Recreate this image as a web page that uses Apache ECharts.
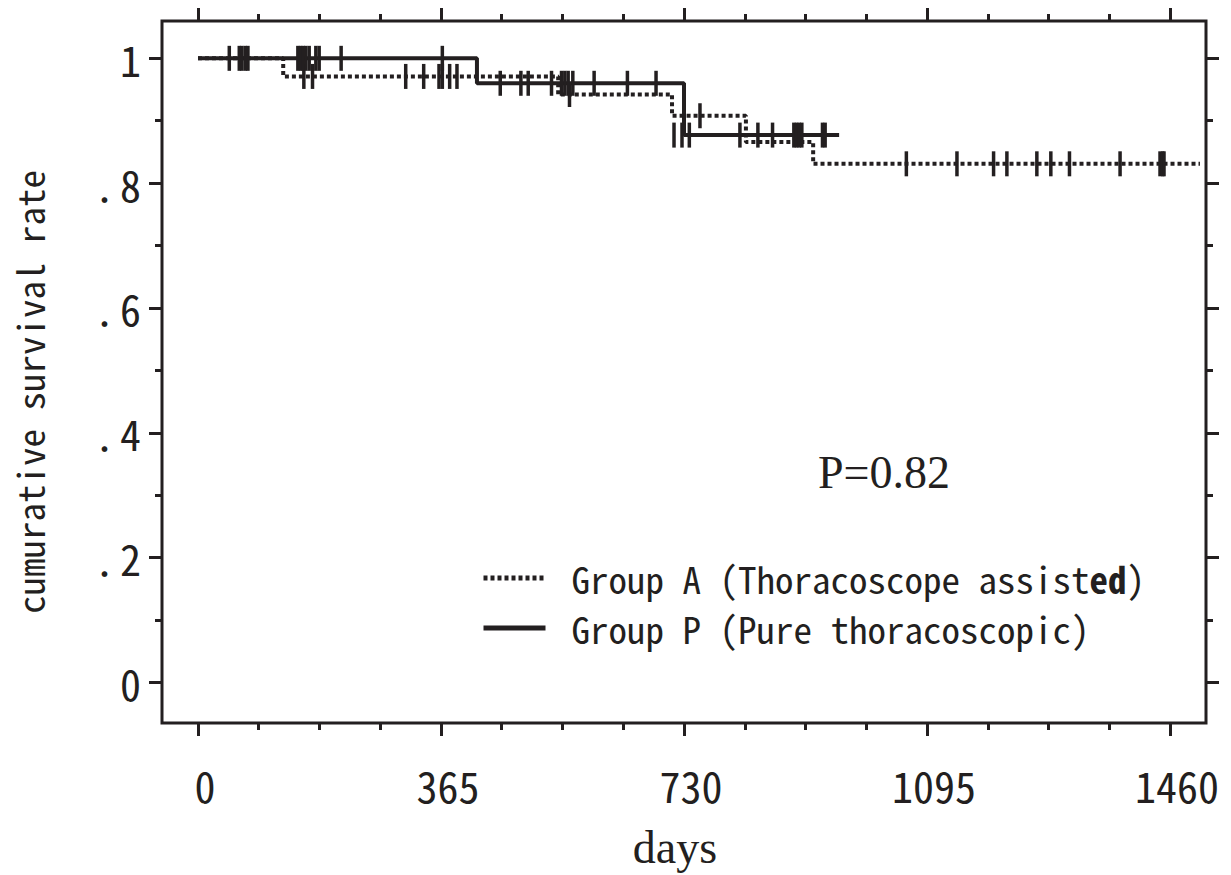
<!DOCTYPE html>
<html>
<head>
<meta charset="utf-8">
<style>
html,body{margin:0;padding:0;background:#fff;}
#chart{width:1231px;height:875px;}
</style>
<script src="https://cdn.jsdelivr.net/npm/echarts@6/dist/echarts.min.js"></script>
</head>
<body>
<div id="chart"></div>
<script>
// ---- data ----
const xMajorTicks = [0, 365, 730, 1095, 1460];
const xMinorTicks = [91.25, 182.5, 273.75, 456.25, 547.5, 638.75, 821.25, 912.5, 1003.75, 1186.25, 1277.5, 1368.75];
const yMajorTicks = [0, 0.2, 0.4, 0.6, 0.8, 1];
const yMinorTicks = [0.1, 0.3, 0.5, 0.7, 0.9];

// Kaplan-Meier step curves: event times (days) and survival after them
const groupATimes = [0, 128, 541, 712, 823, 924, 1505];
const groupASurv  = [1, 0.971, 0.942, 0.908, 0.866, 0.831, 0.831];
const groupPTimes = [0, 419, 730, 963];
const groupPSurv  = [1, 0.960, 0.877, 0.877];

// censored observations (day, level on the curve)
const groupACensorDays = [47, 66, 75, 159, 172, 312, 339, 362, 367, 378, 389, 558, 754,
  1064, 1140, 1195, 1215, 1260, 1281, 1309, 1385, 1445, 1449, 1451];
const groupACensorSurv = [1, 1, 1, 0.971, 0.971, 0.971, 0.971, 0.971, 0.971, 0.971, 0.971, 0.942, 0.908,
  0.831, 0.831, 0.831, 0.831, 0.831, 0.831, 0.831, 0.831, 0.831, 0.831, 0.831];
const groupPCensorDays = [62, 71, 150, 154, 158, 162, 167, 177, 182, 215, 367,
  454, 485, 496, 531, 546, 551, 556, 563, 595, 645, 688,
  715, 727, 738, 814, 841, 863, 895, 899, 903, 907, 938, 942];
const groupPCensorSurv = [1, 1, 1, 1, 1, 1, 1, 1, 1, 1, 1,
  0.960, 0.960, 0.960, 0.960, 0.960, 0.960, 0.960, 0.960, 0.960, 0.960, 0.960,
  0.877, 0.877, 0.877, 0.877, 0.877, 0.877, 0.877, 0.877, 0.877, 0.877, 0.877, 0.877];

const seriesNames = ['Group A (Thoracoscope assisted)', 'Group P (Pure thoracoscopic)'];
const pValueText = 'P=0.82';
const xAxisTitle = 'days';
const yAxisTitle = 'cumurative survival rate';

// ---- chart ----
const INK = '#231f20';
const MONO = "'Noto Sans Mono CJK JP','Noto Sans Mono CJK SC','Noto Sans CJK JP','DejaVu Sans Mono',monospace";
const SERIF = "'Liberation Serif','Times New Roman',serif";
const X_MIN = -54.07, X_MAX = 1514.07;
const Y_MIN = -0.0649, Y_MAX = 1.0598;

function pairs(xs, ys) { return xs.map((x, i) => [x, ys[i]]); }

function xAxisDef(pos, ticks, len, labels) {
  return {
    type: 'value', position: pos, min: X_MIN, max: X_MAX, gridIndex: 0,
    axisLine: { show: false, onZero: false },
    axisTick: { show: true, customValues: ticks, length: len, lineStyle: { color: INK, width: 3 } },
    axisLabel: labels ? {
      show: true, customValues: ticks, margin: 40, color: INK,
      fontFamily: MONO, fontSize: 42, padding: [0, 0, 0, 14],
      formatter: function (v) { return String(Math.round(v)); }
    } : { show: false },
    splitLine: { show: false }
  };
}
function yAxisDef(pos, ticks, len, labels) {
  return {
    type: 'value', position: pos, min: Y_MIN, max: Y_MAX, gridIndex: 0,
    axisLine: { show: false, onZero: false },
    axisTick: { show: true, customValues: ticks, length: len, lineStyle: { color: INK, width: 3 } },
    axisLabel: labels ? {
      show: true, customValues: ticks, margin: 21, color: INK,
      fontFamily: MONO, fontSize: 42,
      formatter: function (v) {
        if (Math.abs(v) < 1e-9) return '0';
        if (Math.abs(v - 1) < 1e-9) return '1';
        return '{d|.}' + Math.round(v * 10);
      },
      rich: { d: { fontFamily: MONO, fontSize: 42, color: INK, padding: [0, 5, 0, 0] } }
    } : { show: false },
    splitLine: { show: false }
  };
}

const chart = echarts.init(document.getElementById('chart'), null, { renderer: 'svg' });
chart.setOption({
  animation: false,
  backgroundColor: '#fff',
  grid: {
    left: 162, right: 25, top: 21, bottom: 152,
    show: true, borderColor: INK, borderWidth: 3, backgroundColor: 'transparent',
    outerBoundsMode: 'none'
  },
  xAxis: [
    xAxisDef('bottom', xMajorTicks, 13, true),
    xAxisDef('bottom', xMinorTicks, 7, false),
    xAxisDef('top', xMajorTicks, 13, false),
    xAxisDef('top', xMinorTicks, 7, false)
  ],
  yAxis: [
    yAxisDef('left', yMajorTicks, 13, true),
    yAxisDef('left', yMinorTicks, 7, false),
    yAxisDef('right', yMajorTicks, 13, false),
    yAxisDef('right', yMinorTicks, 7, false)
  ],
  legend: {
    data: seriesNames,
    orient: 'vertical',
    left: 481, top: 558,
    padding: 0,
    itemWidth: 62, itemHeight: 14, itemGap: 10,
    selectedMode: false,
    itemStyle: { opacity: 0 },
    lineStyle: { width: 5 },
    textStyle: {
      fontFamily: MONO, fontSize: 37, color: INK, lineHeight: 40,
      padding: [0, 0, 0, 21],
      rich: { b: { fontFamily: MONO, fontSize: 37, fontWeight: 'bold', color: INK } }
    },
    formatter: function (name) {
      if (name === seriesNames[0]) return 'Group A (Thoracoscope assist{b|ed})';
      return name;
    }
  },
  series: [
    {
      name: seriesNames[0], type: 'line', step: 'end',
      data: pairs(groupATimes, groupASurv),
      symbol: 'none', showSymbol: false,
      lineStyle: { color: INK, width: 4, type: [4, 3] },
      itemStyle: { color: INK },
      z: 2
    },
    {
      name: seriesNames[1], type: 'line', step: 'end',
      data: pairs(groupPTimes, groupPSurv),
      symbol: 'none', showSymbol: false,
      lineStyle: { color: INK, width: 4, type: 'solid' },
      itemStyle: { color: INK },
      z: 3
    },
    {
      name: 'A censored', type: 'scatter',
      data: pairs(groupACensorDays, groupACensorSurv),
      symbol: 'rect', symbolSize: [3.5, 25],
      itemStyle: { color: INK, opacity: 1 }, z: 4
    },
    {
      name: 'P censored', type: 'scatter',
      data: pairs(groupPCensorDays, groupPCensorSurv),
      symbol: 'rect', symbolSize: [3.5, 25],
      itemStyle: { color: INK, opacity: 1 }, z: 4
    }
  ],
  graphic: [
    {
      type: 'text', x: 29, y: 392, rotation: Math.PI / 2,
      style: { text: yAxisTitle, fontFamily: MONO, fontSize: 37, fill: INK,
               textAlign: 'center', textVerticalAlign: 'middle' }
    },
    {
      type: 'text', x: 675, y: 847,
      style: { text: xAxisTitle, fontFamily: SERIF, fontSize: 46, fill: INK,
               textAlign: 'center', textVerticalAlign: 'middle' }
    },
    {
      type: 'text', x: 818, y: 472,
      style: { text: pValueText, fontFamily: SERIF, fontSize: 46, fill: INK,
               textAlign: 'left', textVerticalAlign: 'middle' }
    }
  ]
});
</script>
</body>
</html>
